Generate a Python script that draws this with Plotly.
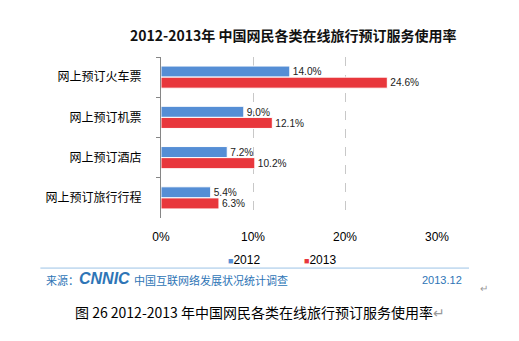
import plotly.graph_objects as go

categories = ["网上预订火车票", "网上预订机票", "网上预订酒店", "网上预订旅行行程"]
values_2012 = [14.0, 9.0, 7.2, 5.4]
values_2013 = [24.6, 12.1, 10.2, 6.3]
series_names = ["2012", "2013"]
series_colors = ["#558ED5", "#E8373C"]
x_ticks = [0, 10, 20, 30]
x_tick_labels = ["0%", "10%", "20%", "30%"]

CJK = "Noto Sans CJK SC, Liberation Sans, Arial, sans-serif"
LAT = "Liberation Sans, Arial, sans-serif"

fig = go.Figure()
for name, vals, col in zip(series_names, [values_2012, values_2013], series_colors):
    fig.add_trace(go.Bar(
        y=categories, x=vals, name=name, orientation="h",
        marker=dict(color=col, line=dict(color="#FFFFFF", width=1)),
        text=[f"{v:.1f}%" for v in vals], textposition="outside",
        textfont=dict(family=LAT, size=11, color="#222222"), cliponaxis=False,
        showlegend=False,
    ))

fig.update_layout(
    width=519, height=341,
    margin=dict(l=161, r=82, t=57, b=123),
    paper_bgcolor="white", plot_bgcolor="white",
    barmode="group", bargap=0.45, bargroupgap=0.0,
    showlegend=False,
    font=dict(family=CJK),
    title=dict(text="<b>2012-2013年 中国网民各类在线旅行预订服务使用率</b>",
               x=0.565, xanchor="center", y=0.895, yanchor="middle",
               font=dict(family=CJK, size=14, color="#111111")),
    xaxis=dict(range=[0, 30], tickvals=x_ticks, ticktext=x_tick_labels,
               showgrid=True, gridcolor="#C8C8C8", griddash="dash", gridwidth=1,
               zeroline=False, showline=False, ticks="", ticklabelstandoff=10,
               tickfont=dict(family=LAT, size=12, color="#000000")),
    yaxis=dict(autorange="reversed", showline=True, linecolor="#868686", linewidth=1,
               ticks="outside", tickson="boundaries", ticklen=4, tickcolor="#868686",
               ticklabelstandoff=16,
               tickfont=dict(family=CJK, size=12, color="#000000")),
)

# custom legend
legend_x = [0.235, 0.51]
for name, col, lx in zip(series_names, series_colors, legend_x):
    fig.add_annotation(xref="paper", yref="paper", x=lx, y=-0.26, xanchor="left", yanchor="middle",
                       text=f"<span style='color:{col};font-size:9px'>■</span>{name}", showarrow=False,
                       font=dict(family=LAT, size=12, color="#000000"))

# footer separator line
fig.add_shape(type="line", xref="paper", yref="paper", x0=-0.437, x1=1.116,
              y0=-0.311, y1=-0.311, line=dict(color="#9DC3E6", width=1))

fig.add_annotation(xref="paper", yref="paper", x=-0.425, y=-0.385, xanchor="left", yanchor="middle",
                   text="来源：", showarrow=False,
                   font=dict(family=CJK, size=11, color="#2E75B6"))
fig.add_annotation(xref="paper", yref="paper", x=-0.305, y=-0.378, xanchor="left", yanchor="middle",
                   text="<b><i>CNNIC</i></b>", showarrow=False,
                   font=dict(family=LAT, size=16, color="#2E75B6"))
fig.add_annotation(xref="paper", yref="paper", x=-0.105, y=-0.385, xanchor="left", yanchor="middle",
                   text="中国互联网络发展状况统计调查", showarrow=False,
                   font=dict(family=CJK, size=11, color="#2E75B6"))
fig.add_annotation(xref="paper", yref="paper", x=1.097, y=-0.385, xanchor="right", yanchor="middle",
                   text="2013.12", showarrow=False,
                   font=dict(family=LAT, size=11, color="#2E75B6"))
fig.add_annotation(xref="paper", yref="paper", x=1.17, y=-0.43, xanchor="center", yanchor="middle",
                   text="↵", showarrow=False,
                   font=dict(family=CJK, size=10, color="#999999"))
fig.add_annotation(xref="paper", yref="paper", x=0.36, y=-0.585, xanchor="center", yanchor="middle",
                   text="图 26 2012-2013 年中国网民各类在线旅行预订服务使用率<span style='color:#999999'>↵</span>",
                   showarrow=False,
                   font=dict(family=CJK, size=14, color="#000000"))

fig.write_html("out.html")
